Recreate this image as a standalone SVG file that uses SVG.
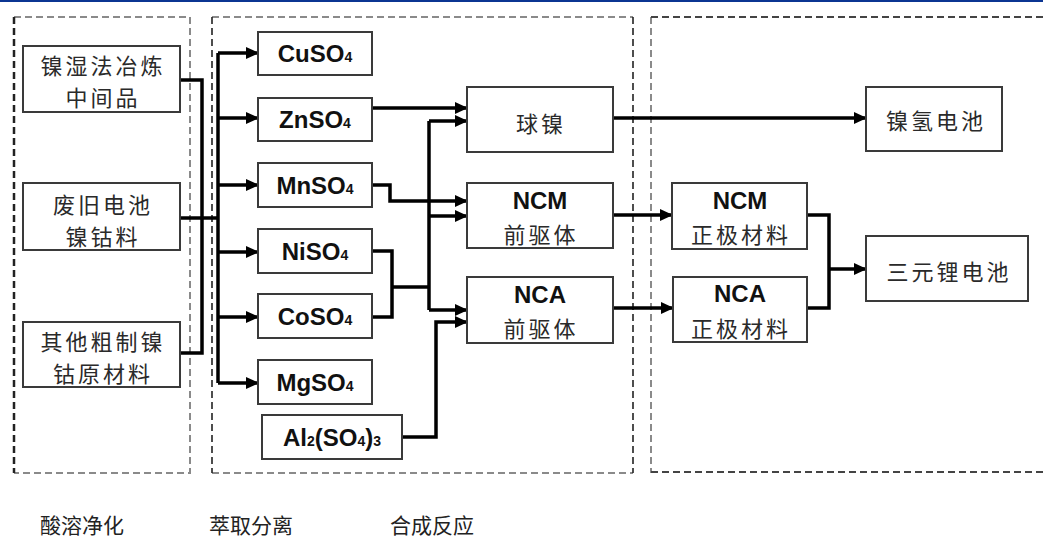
<svg xmlns="http://www.w3.org/2000/svg" width="1043" height="539" viewBox="0 0 1043 539">
<defs>
<marker id="ah" markerUnits="userSpaceOnUse" markerWidth="13" markerHeight="12" refX="12" refY="6" orient="auto">
<path d="M0,0 L13,6 L0,12 z" fill="#000"/>
</marker>
<style>
.node rect{fill:#fff;stroke:#3a3a3a;stroke-width:2}
.cn{font-family:"Noto Sans CJK SC","Noto Sans CJK JP",sans-serif;font-size:22px;fill:#2a2a2a;text-anchor:middle;dominant-baseline:central;letter-spacing:3px}
.en{font-family:"Liberation Sans",Arial,sans-serif;font-weight:bold;font-size:24px;fill:#111;text-anchor:middle}
.sub{font-size:14px}
.lbl{font-family:"Noto Sans CJK SC","Noto Sans CJK JP",sans-serif;font-size:21px;fill:#222;text-anchor:middle;dominant-baseline:central}
.conn path{fill:none;stroke:#000;stroke-width:3.5;stroke-linejoin:miter}
.arr{marker-end:url(#ah)}
.dg{fill:none;stroke:#8a8a8a;stroke-width:2;stroke-dasharray:7 4}
.dk{fill:none;stroke:#222;stroke-width:1.6;stroke-dasharray:7 4}
.dd{fill:none;stroke:#444;stroke-width:2;stroke-dasharray:7 4}
</style>
</defs>
<rect x="0" y="0" width="1043" height="539" fill="#fff"/>
<rect x="0" y="0" width="1043" height="2" fill="#0b3592"/>

<g id="stages">
<path class="dg" d="M14,17 H190 V473 H14"/>
<path class="dk" d="M14,17 V473" style="stroke-width:2.5"/>
<path class="dg" d="M212,17 H633 M212,473 H633"/>
<path class="dk" d="M212,17 V473 M633,17 V473"/>
<path class="dg" d="M651,17 V473"/>
<path class="dd" d="M651,17 H1043 M651,472 H1043"/>
</g>

<g class="conn" id="connectors">
<path d="M180,80 H202 V353 H180"/>
<path d="M180,218 H218"/>
<path d="M218,53 V383"/>
<path class="arr" d="M218,53 H258"/>
<path class="arr" d="M218,118 H258"/>
<path class="arr" d="M218,185 H258"/>
<path class="arr" d="M218,252 H258"/>
<path class="arr" d="M218,317 H258"/>
<path class="arr" d="M218,383 H258"/>
<path class="arr" d="M372,108 H467"/>
<path class="arr" d="M372,185 H390 V201 H467"/>
<path d="M372,251 H392 V317 H372"/>
<path d="M392,287 H429"/>
<path d="M429,121 V310"/>
<path class="arr" d="M429,121 H467"/>
<path class="arr" d="M429,216 H467"/>
<path class="arr" d="M429,310 H467"/>
<path class="arr" d="M402,437 H436 V322 H467"/>
<path class="arr" d="M613,118 H866"/>
<path class="arr" d="M613,215 H672"/>
<path class="arr" d="M613,308 H673"/>
<path d="M807,215 H829 V308 H807"/>
<path class="arr" d="M829,269 H866"/>
</g>

<g id="n-src1" class="node"><rect x="23" y="46" width="157" height="66"/>
<text class="cn" x="103" y="64">镍湿法冶炼</text><text class="cn" x="103" y="96">中间品</text></g>
<g id="n-src2" class="node"><rect x="23" y="183" width="157" height="67"/>
<text class="cn" x="103" y="203">废旧电池</text><text class="cn" x="103" y="235">镍钴料</text></g>
<g id="n-src3" class="node"><rect x="23" y="322" width="157" height="65"/>
<text class="cn" x="103" y="340">其他粗制镍</text><text class="cn" x="103" y="372">钴原材料</text></g>

<g id="n-cuso4" class="node"><rect x="258" y="32" width="114" height="43"/>
<text class="en" x="315" y="62">CuSO<tspan class="sub">4</tspan></text></g>
<g id="n-znso4" class="node"><rect x="258" y="98" width="114" height="43"/>
<text class="en" x="315" y="128">ZnSO<tspan class="sub">4</tspan></text></g>
<g id="n-mnso4" class="node"><rect x="258" y="163" width="114" height="44"/>
<text class="en" x="315" y="194">MnSO<tspan class="sub">4</tspan></text></g>
<g id="n-niso4" class="node"><rect x="258" y="229" width="114" height="44"/>
<text class="en" x="315" y="260">NiSO<tspan class="sub">4</tspan></text></g>
<g id="n-coso4" class="node"><rect x="258" y="294" width="114" height="44"/>
<text class="en" x="315" y="325">CoSO<tspan class="sub">4</tspan></text></g>
<g id="n-mgso4" class="node"><rect x="258" y="360" width="114" height="44"/>
<text class="en" x="315" y="391">MgSO<tspan class="sub">4</tspan></text></g>
<g id="n-al" class="node"><rect x="262" y="415" width="140" height="44"/>
<text class="en" x="332" y="446">Al<tspan class="sub">2</tspan>(SO<tspan class="sub">4</tspan>)<tspan class="sub">3</tspan></text></g>

<g id="n-qiunie" class="node"><rect x="467" y="87" width="146" height="65"/>
<text class="cn" x="541" y="122">球镍</text></g>
<g id="n-ncm-pre" class="node"><rect x="467" y="183" width="146" height="65"/>
<text class="en" x="540" y="209">NCM</text><text class="cn" x="541" y="233">前驱体</text></g>
<g id="n-nca-pre" class="node"><rect x="467" y="277" width="146" height="66"/>
<text class="en" x="540" y="303">NCA</text><text class="cn" x="541" y="327">前驱体</text></g>

<g id="n-nimh" class="node"><rect x="866" y="87" width="136" height="64"/>
<text class="cn" x="936" y="119">镍氢电池</text></g>
<g id="n-ncm-cat" class="node"><rect x="672" y="183" width="135" height="66"/>
<text class="en" x="740" y="209">NCM</text><text class="cn" x="741" y="233">正极材料</text></g>
<g id="n-nca-cat" class="node"><rect x="673" y="277" width="134" height="65"/>
<text class="en" x="740" y="302">NCA</text><text class="cn" x="741" y="327">正极材料</text></g>
<g id="n-ternary" class="node"><rect x="866" y="236" width="162" height="65"/>
<text class="cn" x="949" y="270">三元锂电池</text></g>

<g id="stage-labels">
<text class="lbl" x="82" y="524">酸溶净化</text>
<text class="lbl" x="251" y="524">萃取分离</text>
<text class="lbl" x="432" y="524">合成反应</text>
</g>
</svg>
